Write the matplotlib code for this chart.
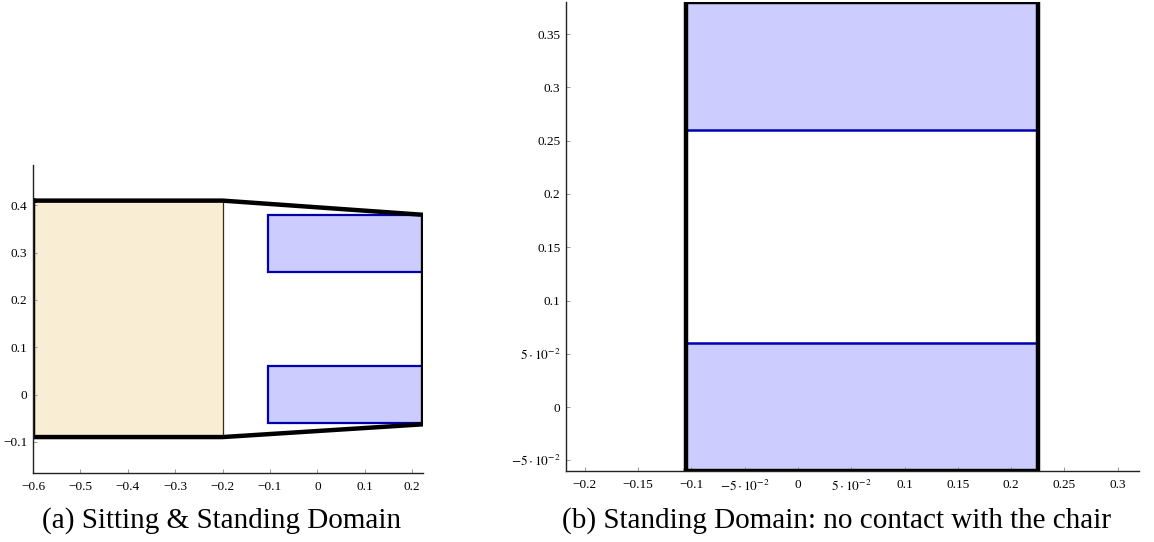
import matplotlib.pyplot as plt
from matplotlib.patches import Rectangle
from matplotlib.ticker import FixedLocator, FixedFormatter

plt.rcParams['font.family'] = ['Liberation Serif', 'DejaVu Serif']
plt.rcParams['mathtext.fontset'] = 'stix'

# outer boundary of the sitting & standing domain
outer_x = [-0.6, -0.2, 0.223, 0.223, -0.2, -0.6, -0.6]
outer_y = [0.41, 0.41, 0.38, -0.063, -0.09, -0.09, 0.41]

# chair region
seat_x = [-0.6, -0.2]
seat_y = [-0.09, 0.41]

# feet regions (shared by both panels)
feet_x = [-0.105, 0.223]
feet_y_upper = [0.26, 0.38]
feet_y_lower = [-0.06, 0.06]

# standing-only frame
stand_x = [-0.105, 0.225]
stand_y = [-0.06, 0.38]

ticks_a_x = [-0.6, -0.5, -0.4, -0.3, -0.2, -0.1, 0, 0.1, 0.2]
labels_a_x = ['\u22120.6', '\u22120.5', '\u22120.4', '\u22120.3', '\u22120.2', '\u22120.1', '0', '0.1', '0.2']
ticks_a_y = [-0.1, 0, 0.1, 0.2, 0.3, 0.4]
labels_a_y = ['\u22120.1', '0', '0.1', '0.2', '0.3', '0.4']

ticks_b_x = [-0.2, -0.15, -0.1, -0.05, 0, 0.05, 0.1, 0.15, 0.2, 0.25, 0.3]
labels_b_x = ['\u22120.2', '\u22120.15', '\u22120.1', r'$-5\cdot10^{-2}$', '0', r'$5\cdot10^{-2}$',
              '0.1', '0.15', '0.2', '0.25', '0.3']
ticks_b_y = [-0.05, 0, 0.05, 0.1, 0.15, 0.2, 0.25, 0.3, 0.35]
labels_b_y = [r'$-5\cdot10^{-2}$', '0', r'$5\cdot10^{-2}$', '0.1', '0.15', '0.2', '0.25', '0.3', '0.35']

tan = '#f9eed3'
lav = '#ccccff'
edge_blue = '#0000b0'

fig = plt.figure(figsize=(11.54, 5.42), dpi=100)
ax1 = fig.add_axes([0.0286, 0.1273, 0.338, 0.568])
ax2 = fig.add_axes([0.4905, 0.131, 0.4965, 0.865])


def style_axes(ax, tx, lx, ty, ly):
    for s in ['top', 'right']:
        ax.spines[s].set_visible(False)
    for s in ['left', 'bottom']:
        ax.spines[s].set_linewidth(1.0)
        ax.spines[s].set_color('#222222')
    ax.xaxis.set_major_locator(FixedLocator(tx))
    ax.xaxis.set_major_formatter(FixedFormatter(lx))
    ax.yaxis.set_major_locator(FixedLocator(ty))
    ax.yaxis.set_major_formatter(FixedFormatter(ly))
    ax.tick_params(direction='in', length=3, width=0.6, color='#888888',
                   labelsize=9.5)
    ax.tick_params(axis='x', pad=6)
    ax.tick_params(axis='y', pad=4)


# (a) sitting & standing
ax1.add_patch(Rectangle((seat_x[0], seat_y[0]), seat_x[1] - seat_x[0], seat_y[1] - seat_y[0],
                        facecolor=tan, edgecolor='#3a2a10', linewidth=0.9))
for fy in (feet_y_upper, feet_y_lower):
    ax1.add_patch(Rectangle((feet_x[0], fy[0]), feet_x[1] - feet_x[0], fy[1] - fy[0],
                            facecolor=lav, edgecolor=edge_blue, linewidth=1.6))
ax1.plot(outer_x, outer_y, color='black', linewidth=3.2, solid_joinstyle='miter')
ax1.set_xlim(-0.6, 0.223)
ax1.set_ylim(-0.166, 0.485)
style_axes(ax1, ticks_a_x, labels_a_x, ticks_a_y, labels_a_y)

# (b) standing only
for fy in (feet_y_upper, feet_y_lower):
    ax2.add_patch(Rectangle((stand_x[0], fy[0]), stand_x[1] - stand_x[0], fy[1] - fy[0],
                            facecolor=lav, edgecolor='none'))
ax2.plot(stand_x, [feet_y_upper[0]] * 2, color=edge_blue, linewidth=1.8)
ax2.plot(stand_x, [feet_y_lower[1]] * 2, color=edge_blue, linewidth=1.8)
ax2.plot([stand_x[0], stand_x[1], stand_x[1], stand_x[0], stand_x[0]],
         [stand_y[0], stand_y[0], stand_y[1], stand_y[1], stand_y[0]],
         color='black', linewidth=3.2, solid_joinstyle='miter')
ax2.set_xlim(-0.2176, 0.32)
ax2.set_ylim(-0.06, 0.38)
style_axes(ax2, ticks_b_x, labels_b_x, ticks_b_y, labels_b_y)

fig.text(0.192, 0.04, '(a) Sitting & Standing Domain', ha='center', va='center', fontsize=21)
fig.text(0.725, 0.04, '(b) Standing Domain: no contact with the chair', ha='center', va='center',
         fontsize=21)

fig.savefig('out.png', dpi=100)
